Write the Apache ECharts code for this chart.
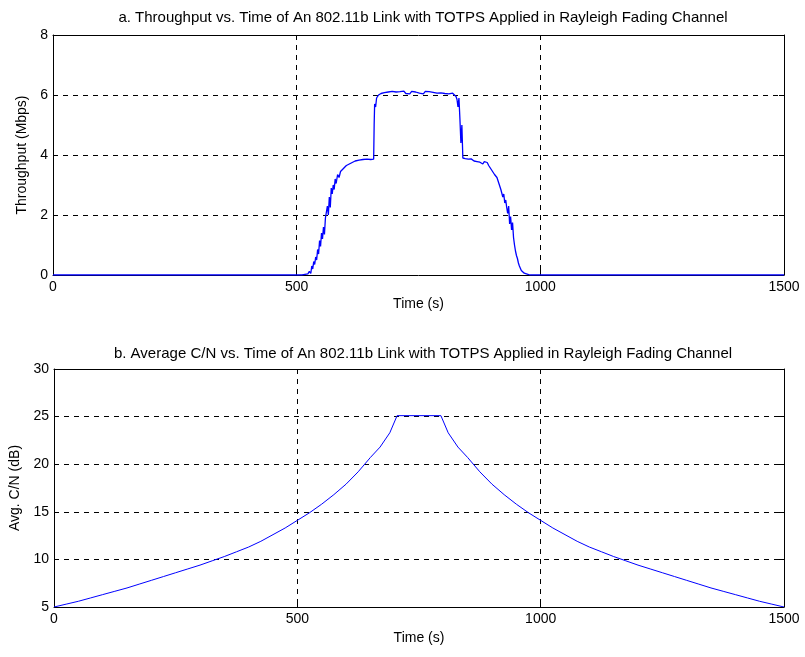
<!DOCTYPE html>
<html>
<head>
<meta charset="utf-8">
<script src="https://cdn.jsdelivr.net/npm/echarts@6/dist/echarts.min.js"></script>
<style>
html,body{margin:0;padding:0;background:#fff;}
#chart{width:805px;height:657px;}
</style>
</head>
<body>
<div id="chart"></div>
<script>
// ---- Data ----
var titleTop = 'a. Throughput vs. Time of An 802.11b Link with TOTPS Applied in Rayleigh Fading Channel';
var titleBottom = 'b. Average C/N vs. Time of An 802.11b Link with TOTPS Applied in Rayleigh Fading Channel';
var xTicks = [0, 500, 1000, 1500];
var topYTicks = [0, 2, 4, 6, 8];
var bottomYTicks = [5, 10, 15, 20, 25, 30];

var throughputTime = [0, 505, 508, 511, 514, 517, 520, 523, 526, 529, 531, 533, 535, 537, 539, 541, 543, 545, 547, 549, 551, 553, 555, 557, 559, 561, 563, 565, 567, 569, 571, 573, 575, 577, 579, 581, 584, 587, 590, 593, 596, 599, 602, 605, 608, 611, 614, 617, 620, 624, 628, 632, 636, 640, 644, 648, 652, 656, 658, 659, 660, 662, 664, 666, 668, 670, 673, 676, 680, 684, 688, 692, 696, 700, 704, 708, 712, 716, 720, 724, 728, 732, 736, 740, 744, 748, 752, 756, 760, 764, 768, 772, 776, 780, 784, 788, 792, 796, 800, 804, 808, 812, 816, 820, 824, 827, 829, 831, 833, 835, 837, 839, 841, 843, 846, 849, 852, 855, 858, 861, 864, 867, 870, 873, 876, 879, 882, 885, 888, 891, 894, 897, 900, 903, 906, 909, 911, 913, 915, 917, 919, 921, 923, 925, 927, 929, 931, 933, 935, 937, 939, 941, 943, 945, 947, 949, 951, 953, 955, 957, 959, 961, 964, 967, 970, 973, 976, 979, 1500];
var throughputMbps = [0, 0, 0.03, 0.0, 0.06, 0.02, 0.08, 0.04, 0.12, 0.05, 0.3, 0.2, 0.45, 0.35, 0.6, 0.5, 0.85, 0.7, 1.15, 0.95, 1.4, 1.2, 1.6, 1.35, 1.9, 1.95, 2.3, 2.0, 2.6, 2.25, 2.9, 2.7, 3.0, 2.85, 3.2, 3.05, 3.35, 3.25, 3.45, 3.4, 3.55, 3.5, 3.65, 3.6, 3.7, 3.68, 3.75, 3.72, 3.8, 3.78, 3.83, 3.8, 3.85, 3.82, 3.86, 3.83, 3.85, 3.84, 3.86, 5.0, 5.7, 5.6, 5.9, 5.85, 6.0, 5.95, 6.05, 6.0, 6.08, 6.03, 6.1, 6.05, 6.12, 6.06, 6.1, 6.04, 6.11, 6.07, 6.13, 6.05, 6.09, 6.04, 6.12, 6.07, 6.1, 6.15, 6.06, 6.1, 6.04, 6.12, 6.08, 6.11, 6.05, 6.09, 6.13, 6.06, 6.1, 6.07, 6.11, 6.05, 6.09, 6.04, 6.1, 6.06, 6.02, 5.95, 5.85, 5.6, 5.9, 5.2, 4.4, 5.0, 3.9, 3.85, 3.88, 3.83, 3.86, 3.82, 3.87, 3.84, 3.8, 3.85, 3.78, 3.83, 3.76, 3.8, 3.7, 3.78, 3.72, 3.75, 3.65, 3.6, 3.5, 3.55, 3.35, 3.4, 3.25, 3.3, 3.05, 3.1, 2.85, 2.8, 2.6, 2.7, 2.4, 2.5, 2.25, 2.05, 2.3, 1.7, 1.95, 1.5, 1.75, 1.25, 1.0, 0.8, 0.65, 0.55, 0.4, 0.3, 0.25, 0.15, 0.12, 0.06, 0.08, 0.03, 0.02, 0, 0];

var cnTime = [0, 25, 50, 75, 100, 125, 150, 175, 200, 225, 250, 275, 300, 325, 350, 375, 400, 425, 450, 475, 500, 525, 550, 575, 600, 625, 650, 670, 690, 705,
              795, 810, 830, 850, 875, 900, 925, 950, 975, 1000, 1025, 1050, 1075, 1100, 1125, 1150, 1175, 1200, 1225, 1250, 1275, 1300, 1325, 1350, 1375, 1400, 1425, 1450, 1475, 1500];
var cnDb = [5.0, 5.3, 5.6, 5.95, 6.3, 6.65, 7.0, 7.4, 7.8, 8.2, 8.6, 9.0, 9.4, 9.85, 10.3, 10.8, 11.3, 11.9, 12.6, 13.3, 14.1, 14.9, 15.8, 16.8, 17.9, 19.2, 20.7, 21.8, 23.3, 25.1,
            25.1, 23.3, 21.8, 20.7, 19.2, 17.9, 16.8, 15.8, 14.9, 14.1, 13.3, 12.6, 11.9, 11.3, 10.8, 10.3, 9.85, 9.4, 9.0, 8.6, 8.2, 7.8, 7.4, 7.0, 6.65, 6.3, 5.95, 5.6, 5.3, 5.0];

function zip(a, b) { return a.map(function (v, i) { return [v, b[i]]; }); }

var FONT = '"Liberation Sans", Arial, sans-serif';
var grids = [
  { left: 53, right: 21, top: 35, height: 240 },
  { left: 53, right: 21, top: 369, height: 238 }
];
var dashed = { show: true, lineStyle: { color: '#000', width: 1, type: [5, 5] } };
var plain = function (v) { return String(v); };

function xMain(gi, nameGap) {
  return {
    type: 'value', gridIndex: gi, min: 0, max: 1500, interval: 500, position: 'bottom',
    name: 'Time (s)', nameLocation: 'middle', nameGap: nameGap,
    nameTextStyle: { fontFamily: FONT, fontSize: 14, color: '#000' },
    axisLine: { show: true, onZero: false, lineStyle: { color: '#000', width: 1 } },
    axisTick: { show: true, inside: true, length: 5, lineStyle: { color: '#000' } },
    axisLabel: { fontFamily: FONT, fontSize: 14, color: '#000', margin: 5, formatter: plain },
    splitLine: dashed
  };
}
function xMirror(gi) {
  return {
    type: 'value', gridIndex: gi, min: 0, max: 1500, interval: 500, position: 'top',
    axisLine: { show: true, onZero: false, lineStyle: { color: '#000', width: 1 } },
    axisTick: { show: true, inside: true, length: 5, lineStyle: { color: '#000' } },
    axisLabel: { show: false }, splitLine: { show: false }
  };
}
function yMain(gi, min, max, interval, name, nameGap) {
  return {
    type: 'value', gridIndex: gi, min: min, max: max, interval: interval, position: 'left',
    name: name, nameLocation: 'middle', nameGap: nameGap,
    nameTextStyle: { fontFamily: FONT, fontSize: 14, color: '#000' },
    axisLine: { show: true, onZero: false, lineStyle: { color: '#000', width: 1 } },
    axisTick: { show: true, inside: true, length: 5, lineStyle: { color: '#000' } },
    axisLabel: { fontFamily: FONT, fontSize: 14, color: '#000', margin: 5, formatter: plain },
    splitLine: dashed
  };
}
function yMirror(gi, min, max, interval) {
  return {
    type: 'value', gridIndex: gi, min: min, max: max, interval: interval, position: 'right',
    axisLine: { show: true, onZero: false, lineStyle: { color: '#000', width: 1 } },
    axisTick: { show: true, inside: true, length: 5, lineStyle: { color: '#000' } },
    axisLabel: { show: false }, splitLine: { show: false }
  };
}

var chart = echarts.init(document.getElementById('chart'), null, { renderer: 'canvas' });
chart.setOption({
  animation: false,
  backgroundColor: '#fff',
  title: [
    { text: titleTop, left: 418, top: 5, textAlign: 'center',
      textStyle: { fontFamily: FONT, fontSize: 15, fontWeight: 'normal', color: '#000' } },
    { text: titleBottom, left: 418, top: 341, textAlign: 'center',
      textStyle: { fontFamily: FONT, fontSize: 15, fontWeight: 'normal', color: '#000' } }
  ],
  grid: grids,
  xAxis: [xMain(0, 22), xMain(1, 24), xMirror(0), xMirror(1)],
  yAxis: [
    yMain(0, topYTicks[0], topYTicks[topYTicks.length - 1], 2, 'Throughput (Mbps)', 22),
    yMain(1, bottomYTicks[0], bottomYTicks[bottomYTicks.length - 1], 5, 'Avg. C/N (dB)', 32),
    yMirror(0, 0, 8, 2),
    yMirror(1, 5, 30, 5)
  ],
  series: [
    { type: 'line', xAxisIndex: 0, yAxisIndex: 0, data: zip(throughputTime, throughputMbps),
      showSymbol: false, symbol: 'none', lineStyle: { color: '#0000ff', width: 1.3 } },
    { type: 'line', xAxisIndex: 1, yAxisIndex: 1, data: zip(cnTime, cnDb),
      showSymbol: false, symbol: 'none', lineStyle: { color: '#0000ff', width: 1 } }
  ]
});
</script>
</body>
</html>
